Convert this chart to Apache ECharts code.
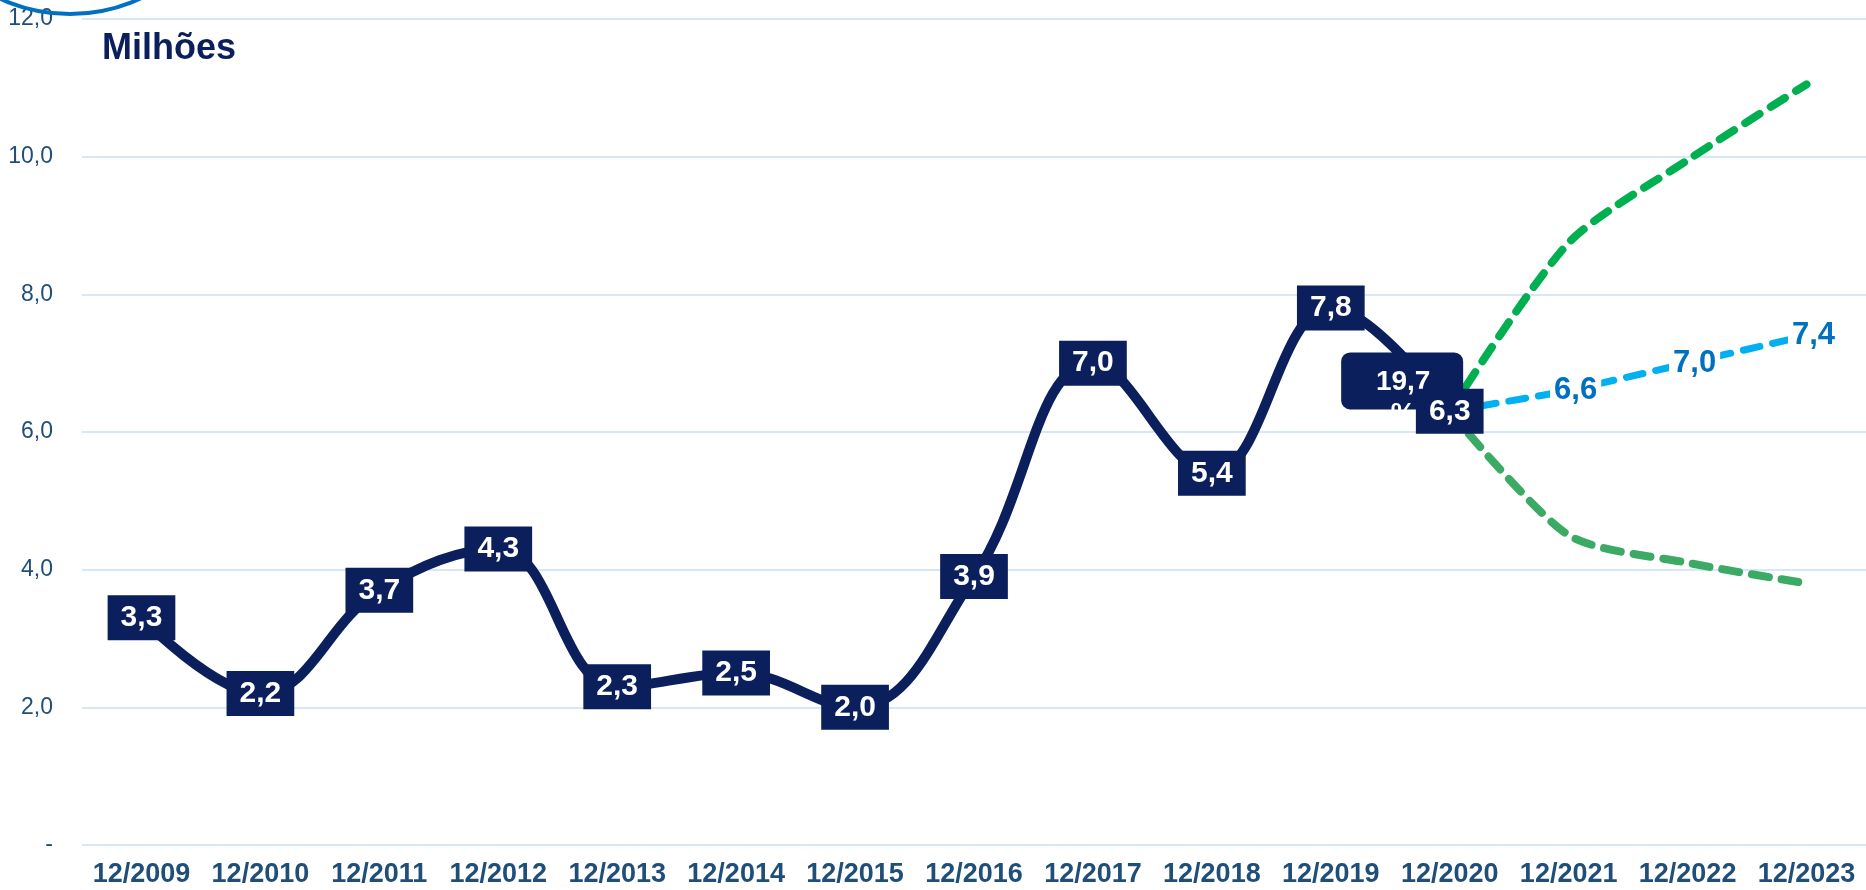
<!DOCTYPE html>
<html>
<head>
<meta charset="utf-8">
<script src="https://cdn.jsdelivr.net/npm/echarts@6/dist/echarts.min.js"></script>
<style>
  html, body { margin: 0; padding: 0; background: #fff; }
  #main { width: 1866px; height: 890px; }
</style>
</head>
<body>
<div id="main"></div>
<script>
var categories = ['12/2009', '12/2010', '12/2011', '12/2012', '12/2013', '12/2014', '12/2015',
    '12/2016', '12/2017', '12/2018', '12/2019', '12/2020', '12/2021', '12/2022', '12/2023'];
// historico ate 12/2020
var realizado = [3.3, 2.2, 3.7, 4.3, 2.3, 2.5, 2.0, 3.9, 7.0, 5.4, 7.8, 6.3];
// projecoes a partir de 12/2020
var cenarioAlto = [6.3, 8.75, 9.95, 11.05];
var cenarioBase = [6.3, 6.6, 7.0, 7.4];
var cenarioBaixo = [6.3, 4.5, 4.1, 3.8];
var yTickLabels = ['-', '2,0', '4,0', '6,0', '8,0', '10,0', '12,0'];
var destaque = { texto: '19,7\n%', de: 10, ate: 11, frac: 0.6, valor: 6.75 };

var navy = '#0A1F5C';
var axisBlue = '#1F4E79';
var font = 'Arial, "Liberation Sans", sans-serif';

function fmt(v) {
    return v.toFixed(1).replace('.', ',');
}

// alinha as series com as categorias
var inicioProj = realizado.length - 1;
function pad(arr, start) {
    var out = [];
    for (var i = 0; i < categories.length; i++) {
        var j = i - start;
        out.push(j >= 0 && j < arr.length ? arr[j] : null);
    }
    return out;
}
var serieReal = pad(realizado, 0);
var serieAlto = pad(cenarioAlto, inicioProj);
var serieBase = pad(cenarioBase, inicioProj);
var serieBaixo = pad(cenarioBaixo, inicioProj);

var myChart = echarts.init(document.getElementById('main'));

option = {
    animation: false,
    title: {
        text: 'Milhões',
        left: 102,
        top: 31,
        padding: 0,
        textStyle: { color: navy, fontSize: 36, fontWeight: 'bold', fontFamily: font }
    },
    grid: { left: 82, right: 0, top: 19, bottom: 45, containLabel: false },
    xAxis: {
        type: 'category',
        data: categories,
        axisLine: { show: false },
        axisTick: { show: false },
        axisLabel: {
            interval: 0,
            color: axisBlue, fontSize: 27, fontWeight: 'bold', fontFamily: font, margin: 16
        }
    },
    yAxis: {
        type: 'value',
        min: 0,
        max: 12,
        interval: 2,
        axisLine: { show: false },
        axisTick: { show: false },
        splitLine: { lineStyle: { color: '#D6E7F6', width: 2 } },
        axisLabel: {
            color: axisBlue, fontSize: 23, fontFamily: font, margin: 29,
            formatter: function (v) { return yTickLabels[Math.round(v / 2)]; }
        }
    },
    series: [
        {
            name: 'Realizado',
            type: 'line',
            data: serieReal,
            smooth: 0.4,
            symbol: 'none',
            z: 2,
            lineStyle: { color: navy, width: 10, cap: 'round', join: 'round' }
        },
        {
            name: 'Alto',
            type: 'line',
            data: serieAlto,
            smooth: 0.25,
            symbol: 'none',
            z: 3,
            lineStyle: { color: '#00B050', width: 8, type: [17, 13], cap: 'round' }
        },
        {
            name: 'Baixo',
            type: 'line',
            data: serieBaixo,
            smooth: 0.25,
            symbol: 'none',
            z: 3,
            lineStyle: { color: '#3BAA64', width: 8, type: [17, 13], cap: 'round' }
        },
        {
            name: 'Base',
            type: 'line',
            data: serieBase,
            symbol: 'circle',
            symbolSize: 1,
            itemStyle: { color: '#00B0F0' },
            z: 4,
            lineStyle: { color: '#00B0F0', width: 7, type: [17, 13], cap: 'round' },
            label: {
                show: true,
                position: 'inside',
                offset: [7, 0],
                color: '#0070C0',
                fontSize: 31,
                fontWeight: 'bold',
                fontFamily: font,
                backgroundColor: '#fff',
                padding: [2, 4],
                formatter: function (p) {
                    return p.dataIndex > inicioProj ? fmt(p.value) : '';
                }
            }
        },
        {
            name: 'Rotulos',
            type: 'line',
            data: serieReal,
            symbol: 'circle',
            symbolSize: 1,
            itemStyle: { color: navy },
            lineStyle: { width: 0 },
            z: 10,
            silent: true,
            label: {
                show: true,
                position: 'inside',
                color: '#fff',
                fontSize: 30,
                fontWeight: 'bold',
                fontFamily: font,
                lineHeight: 31,
                backgroundColor: navy,
                padding: [7, 13, 7, 13],
                formatter: function (p) { return fmt(p.value); }
            }
        }
    ]
};

myChart.setOption(option);

// caixa de destaque (variacao) entre 12/2019 e 12/2020
var p0 = myChart.convertToPixel({ xAxisIndex: 0, yAxisIndex: 0 }, [destaque.de, destaque.valor]);
var p1 = myChart.convertToPixel({ xAxisIndex: 0, yAxisIndex: 0 }, [destaque.ate, destaque.valor]);
var cx = p0[0] + (p1[0] - p0[0]) * destaque.frac;
var cy = p0[1];

myChart.setOption({
    graphic: [
        {
            type: 'circle',
            shape: { cx: 70, cy: -153, r: 167 },
            style: { fill: 'none', stroke: '#0070C0', lineWidth: 4 },
            z: 1
        },
        {
            type: 'rect',
            shape: { x: cx - 61, y: cy - 28, width: 122, height: 57, r: 9 },
            style: { fill: navy },
            z: 5
        },
        {
            type: 'text',
            x: cx + 1,
            y: cy + 18,
            style: {
                text: destaque.texto,
                fill: '#fff',
                font: 'bold 28px ' + font,
                lineHeight: 32,
                align: 'center',
                verticalAlign: 'middle'
            },
            z: 6
        }
    ]
});
</script>
</body>
</html>
